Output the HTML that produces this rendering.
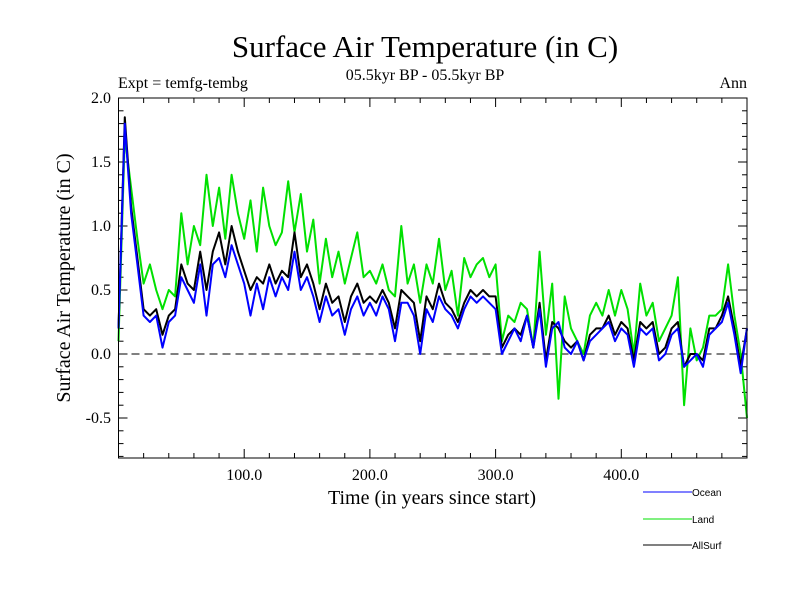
<!DOCTYPE html>
<html><head><meta charset="utf-8"><style>
body{margin:0;background:#fff;width:800px;height:600px;overflow:hidden}
svg text{font-family:"Liberation Serif",serif}
</style></head><body>
<svg id="chart" width="800" height="600" xmlns="http://www.w3.org/2000/svg">
<text x="425" y="57" font-size="31" text-anchor="middle">Surface Air Temperature (in C)</text>
<text x="425" y="80" font-size="16" text-anchor="middle">05.5kyr BP - 05.5kyr BP</text>
<text x="118" y="88" font-size="16">Expt = temfg-tembg</text>
<text x="747" y="88" font-size="16" text-anchor="end">Ann</text>
<text x="432" y="504" font-size="20" text-anchor="middle">Time (in years since start)</text>
<text x="0" y="0" font-size="20" text-anchor="middle" transform="translate(70,278) rotate(-90)">Surface Air Temperature (in C)</text>
<g id="ticks"></g>
<g id="series"></g>
<rect x="118.5" y="98" width="628.5" height="360" fill="none" stroke="#000" stroke-width="1"/>
<g id="legend"></g>
</svg>
<script>
const years = [];
for (let y = 0; y <= 500; y += 5) years.push(y);
const ocean = [0.2,1.8,1.1,0.7,0.3,0.25,0.3,0.05,0.25,0.3,0.6,0.5,0.4,0.7,0.3,0.7,0.75,0.6,0.85,0.7,0.55,0.3,0.55,0.35,0.6,0.45,0.6,0.5,0.8,0.5,0.6,0.45,0.25,0.45,0.3,0.35,0.15,0.35,0.45,0.3,0.4,0.3,0.45,0.35,0.1,0.4,0.4,0.3,0.0,0.35,0.25,0.45,0.35,0.3,0.2,0.35,0.45,0.4,0.45,0.4,0.35,0.0,0.1,0.2,0.1,0.3,0.05,0.35,-0.1,0.2,0.25,0.05,0.0,0.1,-0.05,0.1,0.15,0.2,0.25,0.1,0.2,0.15,-0.1,0.2,0.15,0.2,-0.05,0.0,0.15,0.2,-0.1,-0.05,0.0,-0.1,0.15,0.2,0.25,0.4,0.15,-0.15,0.2];
const land = [0.1,1.7,1.3,0.9,0.55,0.7,0.5,0.35,0.5,0.45,1.1,0.7,1.0,0.85,1.4,1.0,1.3,0.9,1.4,1.1,0.9,1.2,0.8,1.3,1.0,0.85,0.95,1.35,0.95,1.25,0.8,1.05,0.55,0.9,0.6,0.8,0.55,0.75,0.95,0.6,0.65,0.55,0.7,0.5,0.45,1.0,0.55,0.7,0.4,0.7,0.55,0.9,0.5,0.65,0.3,0.75,0.6,0.7,0.75,0.6,0.7,0.1,0.3,0.25,0.4,0.35,0.05,0.8,0.15,0.55,-0.35,0.45,0.2,0.1,0.0,0.3,0.4,0.3,0.5,0.3,0.5,0.35,0.0,0.55,0.3,0.4,0.1,0.2,0.3,0.6,-0.4,0.2,-0.05,0.05,0.3,0.3,0.35,0.7,0.3,0.0,-0.5];
const allsurf = [0.2,1.85,1.15,0.75,0.35,0.3,0.35,0.15,0.3,0.35,0.7,0.55,0.5,0.8,0.5,0.8,0.95,0.7,1.0,0.8,0.65,0.5,0.6,0.55,0.7,0.55,0.65,0.6,0.95,0.6,0.7,0.55,0.35,0.55,0.4,0.45,0.25,0.45,0.55,0.4,0.45,0.4,0.5,0.4,0.2,0.5,0.45,0.4,0.1,0.45,0.35,0.55,0.4,0.35,0.25,0.4,0.5,0.45,0.5,0.45,0.45,0.05,0.15,0.2,0.15,0.3,0.05,0.4,-0.05,0.25,0.2,0.1,0.05,0.1,-0.05,0.15,0.2,0.2,0.3,0.15,0.25,0.2,-0.05,0.25,0.2,0.25,0.0,0.05,0.2,0.25,-0.1,0.0,0.0,-0.05,0.2,0.2,0.3,0.45,0.2,-0.1,0.2];
const yTickLabels = ["-0.5","0.0","0.5","1.0","1.5","2.0"];
const xTickLabels = ["100.0","200.0","300.0","400.0"];

const X0=118.5, X1=747, Y0=458, Y1=98, xMin=0, xMax=500, yMin=-0.8125, yMax=2.0;
const xs = v => X0 + (v - xMin) / (xMax - xMin) * (X1 - X0);
const ys = v => Y0 - (v - yMin) / (yMax - yMin) * (Y0 - Y1);
const NS = "http://www.w3.org/2000/svg";
function mk(tag, attrs, parent){const e=document.createElementNS(NS,tag);for(const k in attrs)e.setAttribute(k,attrs[k]);parent.appendChild(e);return e;}
const tg = document.getElementById('ticks');
for (let i = -8; i <= 20; i++) {
  const v = i/10, y = ys(v), major = (i % 5 === 0), L = major ? 9 : 5;
  const t1 = mk('line',{x1:X0,x2:X0+L,y1:y,y2:y,stroke:'#000'},tg);
  
  
  const t2 = mk('line',{x1:X1,x2:X1-L,y1:y,y2:y,stroke:'#000'},tg);
  
  
}
yTickLabels.forEach(s => {
  const t = mk('text',{x:111,y:ys(parseFloat(s))+5,'font-size':16,'text-anchor':'end'},tg);
  t.textContent = s;
  
  
});
for (let v = 20; v < 500; v += 20) {
  const x = xs(v), major = (v % 100 === 0), L = major ? 9 : 5;
  const a = mk('line',{x1:x,x2:x,y1:Y0,y2:Y0-L,stroke:'#000'},tg);
  
  
  const b = mk('line',{x1:x,x2:x,y1:Y1,y2:Y1+L,stroke:'#000'},tg);
  
  
}
xTickLabels.forEach(s => {
  const t = mk('text',{x:xs(parseFloat(s)),y:480,'font-size':16,'text-anchor':'middle'},tg);
  t.textContent = s;
  
  
});
const zl = mk('line',{x1:X0,x2:X1,y1:ys(0),y2:ys(0),stroke:'#000','stroke-dasharray':'8,5'},tg);



const sg = document.getElementById('series');
function drawSeries(vals, color, name){
  const d = vals.map((v,i)=>(i?'L':'M')+xs(years[i]).toFixed(1)+','+ys(v).toFixed(1)).join('');
  const p = mk('path',{d:d,fill:'none',stroke:color,'stroke-width':2,'stroke-linejoin':'round'},sg);
  
  
}
drawSeries(land,'#00e000','land-line');
drawSeries(allsurf,'#000000','allsurf-line');
drawSeries(ocean,'#0000ff','ocean-line');

const lg = document.getElementById('legend');
[['Ocean','#0000ff',492],['Land','#00e000',519],['AllSurf','#000',545]].forEach(([n,c,y])=>{
  const l = mk('line',{x1:643,x2:692,y1:y,y2:y,stroke:c,'stroke-width':1},lg);
  
  
  const t = mk('text',{x:692,y:y+4,'font-size':10,style:'font-family:"Liberation Sans",sans-serif'},lg);
  t.textContent = n;
  
  
});
</script>
</body></html>
